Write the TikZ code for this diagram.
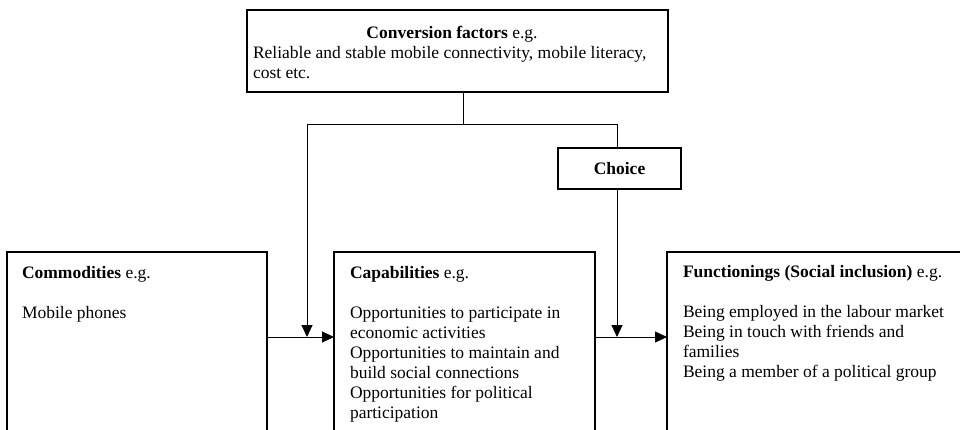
\documentclass[tikz,border=0pt]{standalone}
\usepackage{fontspec}
\setmainfont{Liberation Serif}
\usetikzlibrary{arrows.meta}
\begin{document}
\begin{tikzpicture}[x=1pt,y=-1pt,
  box/.style={draw=black,line width=1.8pt,fill=none,inner sep=0pt,outer sep=0pt},
  conn/.style={draw=black,line width=1pt},
  arr/.style={conn,-{Triangle[length=12pt,width=11pt]}},
  txt/.style={inner sep=0pt,outer sep=0pt,align=left,anchor=north west,
    font=\fontsize{17.5}{20}\selectfont},
]
\useasboundingbox (0,0) rectangle (960,429);
\begin{scope}
\clip (0,0) rectangle (960,429);
% boxes
\node[box,minimum width=421pt,minimum height=82pt,anchor=north west] (conv) at (247,10) {};
\node[box,minimum width=123pt,minimum height=41pt,anchor=north west,font=\fontsize{17.5}{20}\selectfont\bfseries] (choice) at (558,148) {Choice};
\node[box,minimum width=260pt,minimum height=200pt,anchor=north west] (comm) at (7,252) {};
\node[box,minimum width=261pt,minimum height=200pt,anchor=north west] (cap) at (334,252) {};
\node[box,minimum width=310pt,minimum height=200pt,anchor=north west] (func) at (667,252) {};
\end{scope}
% texts
\node[txt,anchor=north] (convt) at (452,24) {\strut\textbf{Conversion factors} e.g.};
\node[txt] (convb) at (253,44) {\strut Reliable and stable mobile connectivity, mobile literacy,\\cost etc.};
\node[txt] (commt) at (22,264) {\strut\textbf{Commodities} e.g.\\[20pt]Mobile phones};
\node[txt] (capt) at (350,264) {\strut\textbf{Capabilities} e.g.\\[20pt]Opportunities to participate in\\economic activities\\Opportunities to maintain and\\build social connections\\Opportunities for political\\participation};
\node[txt] (funct) at (683,263) {\strut\textbf{Functionings (Social inclusion)} e.g.\\[20pt]Being employed in the labour market\\Being in touch with friends and\\families\\Being a member of a political group};
% connectors
\coordinate (jt) at (463,124);
\coordinate (jl) at (307,124);
\coordinate (jr) at (617,124);
\coordinate (ml) at (307,337);
\coordinate (mr) at (617,337);
\draw[conn] (conv.south -| jt) -- (jt);
\draw[conn] (jl) -- (jr);
\draw[conn] (jr) -- (choice.north -| jr);
\draw[arr] (jl) -- (ml);
\draw[arr] (choice.south -| mr) -- (mr);
\draw[arr] (comm.east |- ml) -- (cap.west |- ml);
\draw[arr] (cap.east |- mr) -- (func.west |- mr);
\end{tikzpicture}
\end{document}
